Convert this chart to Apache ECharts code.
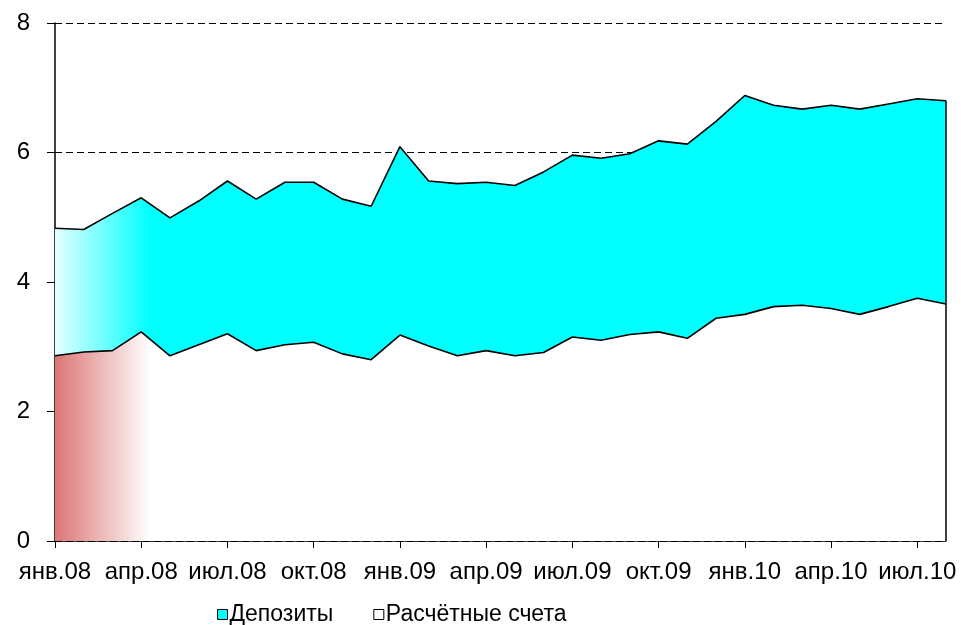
<!DOCTYPE html>
<html>
<head>
<meta charset="utf-8">
<script src="https://cdn.jsdelivr.net/npm/echarts@6/dist/echarts.min.js"></script>
<style>
  html, body { margin: 0; padding: 0; background: #fff; }
  #main { width: 964px; height: 625px; }
</style>
</head>
<body>
<div id="main"></div>
<script>
// months jan.08 .. aug.10
var months = ['янв.08', 'фев.08', 'мар.08', 'апр.08', 'май.08', 'июн.08', 'июл.08', 'авг.08', 'сен.08', 'окт.08', 'ноя.08', 'дек.08',
  'янв.09', 'фев.09', 'мар.09', 'апр.09', 'май.09', 'июн.09', 'июл.09', 'авг.09', 'сен.09', 'окт.09', 'ноя.09', 'дек.09',
  'янв.10', 'фев.10', 'мар.10', 'апр.10', 'май.10', 'июн.10', 'июл.10', 'авг.10'];
// Расчётные счета (bottom layer)
var accounts = [2.86, 2.92, 2.94, 3.23, 2.86, 3.03, 3.20, 2.94, 3.03, 3.07, 2.89, 2.80,
  3.18, 3.01, 2.86, 2.94, 2.86, 2.91, 3.15, 3.10, 3.19, 3.23, 3.13, 3.44,
  3.50, 3.62, 3.64, 3.59, 3.50, 3.62, 3.75, 3.66];
// Депозиты (stacked on top)
var deposits = [1.97, 1.89, 2.12, 2.07, 2.13, 2.22, 2.36, 2.34, 2.51, 2.47, 2.39, 2.37,
  2.91, 2.55, 2.66, 2.60, 2.63, 2.79, 2.81, 2.81, 2.79, 2.95, 3.00, 3.04,
  3.38, 3.11, 3.03, 3.14, 3.17, 3.13, 3.08, 3.14];
var yTicks = [0, 2, 4, 6, 8];

var chartDom = document.getElementById('main');
var myChart = echarts.init(chartDom);
var font = 'Liberation Sans, Arial, sans-serif';
var last = months.length - 1;
var lastTotal = +(accounts[last] + deposits[last]).toFixed(2);

var option = {
  animation: false,
  textStyle: { fontFamily: font },
  grid: { left: 55, right: 18, top: 23, bottom: 84 },
  legend: {
    left: 212,
    top: 598,
    icon: 'rect',
    itemWidth: 10,
    itemHeight: 10,
    itemGap: 40,
    textStyle: { fontSize: 23, color: '#000', fontFamily: font, padding: [0, 0, 0, -3] },
    data: [
      { name: 'Депозиты', itemStyle: { color: '#00ffff', borderColor: '#000', borderWidth: 1 } },
      { name: 'Расчётные счета', itemStyle: { color: '#fff', borderColor: '#000', borderWidth: 1 } }
    ]
  },
  xAxis: {
    type: 'category',
    data: months,
    boundaryGap: false,
    axisLine: { lineStyle: { color: '#000', width: 1.5 } },
    axisTick: { interval: 2, length: 7, lineStyle: { color: '#000', width: 1 } },
    axisLabel: { interval: 2, fontSize: 24, color: '#000', margin: 19, fontFamily: font },
    splitLine: { show: false }
  },
  yAxis: {
    type: 'value',
    min: yTicks[0],
    max: yTicks[yTicks.length - 1],
    interval: 2,
    axisLine: { show: true, lineStyle: { color: '#000', width: 1.5 } },
    axisTick: { show: true, length: 8, lineStyle: { color: '#000', width: 1 } },
    axisLabel: { fontSize: 24, color: '#000', margin: 25, fontFamily: font },
    splitLine: { show: true, lineStyle: { color: '#000', width: 1.2, type: [7, 4] } }
  },
  series: [
    {
      name: 'Расчётные счета',
      type: 'line',
      stack: 'total',
      data: accounts,
      showSymbol: false,
      itemStyle: { color: '#fff' },
      lineStyle: { color: '#000', width: 1.6 },
      areaStyle: {
        opacity: 1,
        color: new echarts.graphic.LinearGradient(0, 0, 1, 0, [
          { offset: 0, color: '#dc7676' },
          { offset: 0.107, color: '#ffffff' },
          { offset: 1, color: '#ffffff' }
        ])
      }
    },
    {
      name: 'Депозиты',
      type: 'line',
      stack: 'total',
      data: deposits,
      showSymbol: false,
      itemStyle: { color: '#00ffff' },
      lineStyle: { color: '#000', width: 1.6 },
      areaStyle: {
        opacity: 1,
        color: new echarts.graphic.LinearGradient(0, 0, 1, 0, [
          { offset: 0, color: '#e4ffff' },
          { offset: 0.107, color: '#00ffff' },
          { offset: 1, color: '#00ffff' }
        ])
      },
      // right edge of the area outline
      markLine: {
        silent: true,
        symbol: 'none',
        label: { show: false },
        lineStyle: { color: '#000', width: 1.5, type: 'solid' },
        data: [[{ coord: [last, 0] }, { coord: [last, lastTotal] }]]
      }
    }
  ]
};

option && myChart.setOption(option);
</script>
</body>
</html>
